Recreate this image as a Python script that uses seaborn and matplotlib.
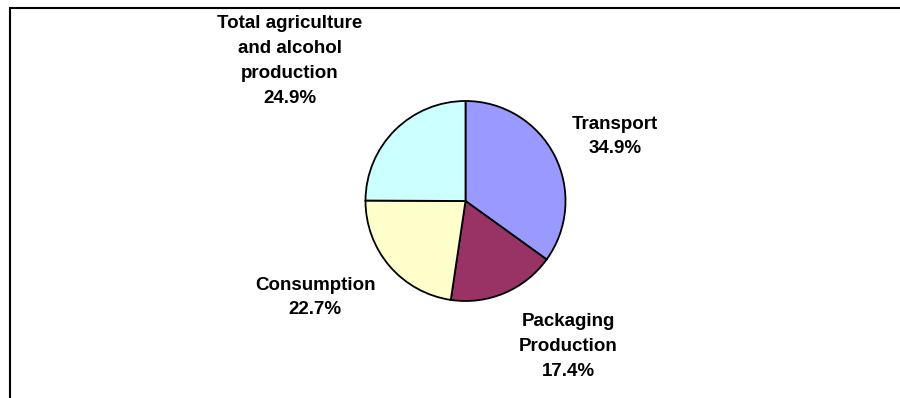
import matplotlib
matplotlib.use("Agg")
import matplotlib.pyplot as plt
from matplotlib.patches import Rectangle
import seaborn as sns

# Share of emissions by stage
categories = ["Transport", "Packaging\nProduction", "Consumption",
              "Total agriculture\nand alcohol\nproduction"]
shares = [34.9, 17.4, 22.7, 24.9]
colors = ["#9999FF", "#993366", "#FFFFCC", "#CCFFFF"]

# Label anchor points in pie-radius units (centre of each text block)
label_xy = [(1.495, 0.645), (1.025, -1.455), (-1.505, -0.965), (-1.755, 1.40)]

sns.set_theme(style="white")
plt.rcParams["font.family"] = ["Liberation Sans", "DejaVu Sans"]

W, H = 900, 398
fig = plt.figure(figsize=(W / 100, H / 100), dpi=100)
fig.patch.set_facecolor("white")

cx, cy, r = 465.5, 201, 100  # pie centre and radius in pixels (from top-left)
ax = fig.add_axes([(cx - r) / W, (H - cy - r) / H, 2 * r / W, 2 * r / H])

wedges, _ = ax.pie(
    shares,
    colors=colors,
    startangle=90,
    counterclock=False,
    radius=1,
    wedgeprops=dict(edgecolor="black", linewidth=1.3),
)
ax.set_xlim(-1.0, 1.0)
ax.set_ylim(-1.0, 1.0)
ax.axis("off")

for name, val, (lx, ly) in zip(categories, shares, label_xy):
    ax.text(lx, ly, f"{name}\n{val:.1f}%", ha="center", va="center",
            fontsize=13.5, fontweight="bold", color="black",
            linespacing=1.6, clip_on=False)

# Chart-area border (left and top edges visible; extends past the image)
fig.add_artist(Rectangle((9.5 / W, -0.2), 2.0, (H - 7.5) / H + 0.2,
                         transform=fig.transFigure, fill=False,
                         edgecolor="black", linewidth=1.5))

fig.savefig("out.png", dpi=100, facecolor="white")
